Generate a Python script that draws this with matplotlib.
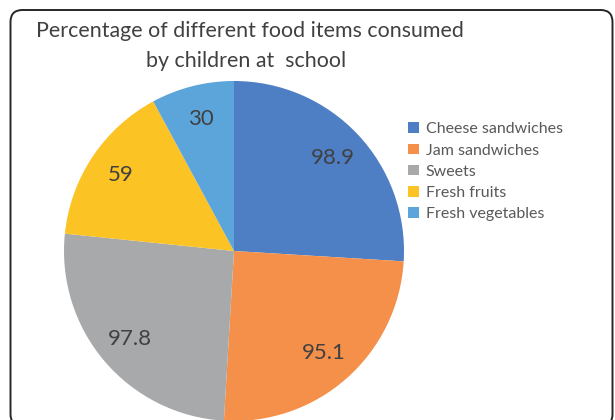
import matplotlib.pyplot as plt
from matplotlib.patches import FancyBboxPatch, Patch

# data
foods  = ["Cheese sandwiches", "Jam sandwiches", "Sweets", "Fresh fruits", "Fresh vegetables"]
values = [98.9, 95.1, 97.8, 59, 30]
colors = ["#4E7FC4", "#F5904A", "#A7A9AA", "#FCC325", "#5CA5DB"]

plt.rcParams["font.family"] = ["Lato", "DejaVu Sans"]

W, H = 615, 420
fig = plt.figure(figsize=(W / 100, H / 100), dpi=100)

# rounded outer frame (pixel coordinates)
frame = FancyBboxPatch((10.5, -6), 602, 416,
                       boxstyle="round,pad=0,rounding_size=12",
                       transform=None, fill=False,
                       edgecolor="#262626", linewidth=1.4, zorder=0)
fig.patches.append(frame)

fig.text(250 / W, 1 - 31 / H, "Percentage of different food items consumed",
         ha="center", va="center", fontsize=15.4, color="#404040")
fig.text(246 / W, 1 - 61 / H, "by children at  school",
         ha="center", va="center", fontsize=15.4, color="#404040")

# pie axes: centre (234, 251) px, radius ~170 px
r = 170
cx, cy = 234, H - 251
ax = fig.add_axes([(cx - r) / W, (cy - r) / H, 2 * r / W, 2 * r / H])
wedges, texts = ax.pie(values, colors=colors, startangle=90, counterclock=False,
                       labels=[f"{v:g}" for v in values], labeldistance=0.8,
                       wedgeprops=dict(linewidth=0),
                       textprops=dict(fontsize=16, color="#404040"))
for t in texts:
    t.set_ha("center")
    t.set_va("center")
ax.set_aspect("equal")
ax.set_xlim(-1, 1)
ax.set_ylim(-1, 1)

handles = [Patch(facecolor=c, edgecolor="none") for c in colors]
fig.legend(handles, foods, loc="upper left", bbox_to_anchor=(402 / W, 1 - 116 / H),
           frameon=False, fontsize=11.5, labelcolor="#595959",
           handlelength=0.65, handleheight=0.65, handletextpad=0.45,
           labelspacing=0.45, borderaxespad=0)

fig.savefig("out.png", dpi=100)
